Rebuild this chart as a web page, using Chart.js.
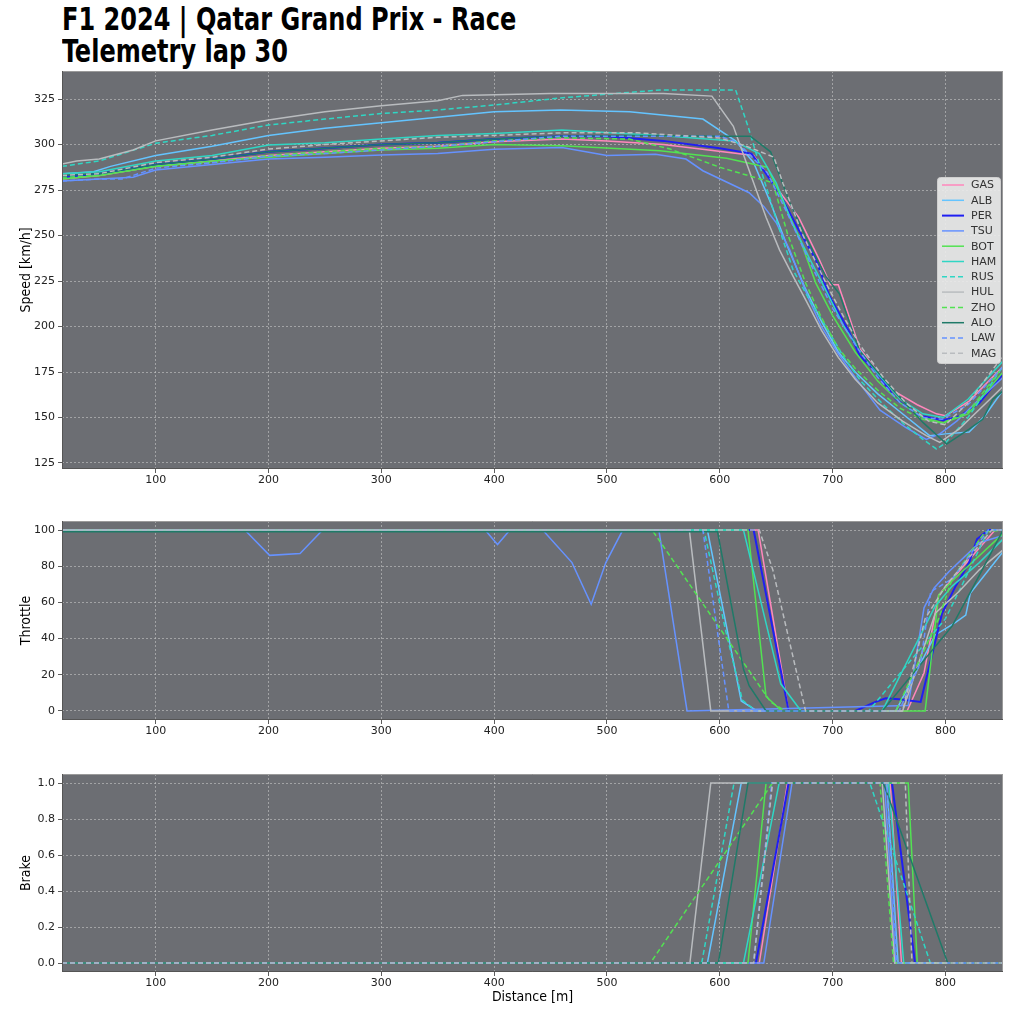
<!DOCTYPE html>
<html>
<head>
<meta charset="utf-8">
<script src="https://cdn.jsdelivr.net/npm/chart.js@4.4.1/dist/chart.umd.min.js"></script>
<style>
  html, body { margin: 0; padding: 0; background: #ffffff; }
  #wrap { position: relative; width: 1024px; height: 1024px; overflow: hidden; }
  .title { position: absolute; left: 62px; font-family: "DejaVu Sans Condensed", "DejaVu Sans", sans-serif;
           font-weight: bold; font-size: 32px; color: #000; white-space: nowrap; line-height: 32px;
           transform: scaleX(0.835); transform-origin: 0 0; }
  canvas { position: absolute; left: 0; }
</style>
</head>
<body>
<div id="wrap">
  <div class="title" style="top:3px">F1 2024 | Qatar Grand Prix - Race</div>
  <div class="title" style="top:35px">Telemetry lap 30</div>
  <canvas id="speed" width="1024" height="440" style="top:60px"></canvas>
  <canvas id="throttle" width="1024" height="240" style="top:510px"></canvas>
  <canvas id="brake" width="1024" height="261" style="top:763px"></canvas>
</div>
<script>
/* ----------------------------------------------------------
   DATA — lap 30, distance [m] vs value, one list per driver
---------------------------------------------------------- */
const drivers = ["GAS", "ALB", "PER", "TSU", "BOT", "HAM", "RUS", "HUL", "ZHO", "ALO", "LAW", "MAG"];
const colors  = ["#ff87bc", "#64c4ff", "#1f1ff2", "#6692ff", "#52e252", "#2fd6c4",
                 "#2fd6c4", "#b9bcbf", "#52e252", "#1f7a68", "#6692ff", "#b9bcbf"];
const dashed  = [false, false, false, false, false, false, true, false, true, false, true, true];

const xTicks        = [100, 200, 300, 400, 500, 600, 700, 800];
const speedTicks    = [125, 150, 175, 200, 225, 250, 275, 300, 325];
const throttleTicks = [0, 20, 40, 60, 80, 100];
const brakeTicks    = [0, 0.2, 0.4, 0.6, 0.8, 1.0];

// Speed [km/h]
const speedPts = [
  // GAS
  [[17,281],[50,283],[100,288],[150,291],[200,294],[250,296],[300,298],[350,299],[400,301.5],[460,303],[500,302],[550,300],[590,297],[630,294],[647,279],[670,260],[688,237],[698,223],[705,223],[710,214],[724,188],[740,175],[753,165],[775,157],[792,152],[800,151],[821,159],[851,178]],
  // ALB
  [[17,284],[45,285],[60,288],[100,294],[150,299],[200,305],[250,309],[300,312],[350,315],[400,318],[459,319],[520,318],[585,314],[614,302],[630,290],[645,268],[660,244],[675,222],[690,203],[705,186],[720,175],[740,163],[760,153],[786,140],[800,141],[821,142],[835,151],[851,165]],
  // PER
  [[17,282],[50,284],[100,289],[150,292],[200,296],[250,298],[300,300],[350,301],[400,303],[460,304.5],[500,304.5],[550,302],[600,298],[628,295],[641,284],[653,273],[670,253],[685,237],[697,217],[714,198],[724,184],[739,175],[756,160],[777,151],[798,148.5],[812,150.5],[830,158],[851,174]],
  // TSU
  [[17,280],[50,281],[80,282],[100,286],[150,289],[200,292],[250,293],[300,294.3],[350,295],[400,297.4],[460,298.4],[500,294],[543,294.7],[570,292],[585,285.6],[626,273.5],[639,266],[650,257],[662,242],[670,229],[679,215],[690,200],[705,185],[720,172],[742,154],[765,144.5],[783,138],[795,141],[810,148],[830,160],[851,172]],
  // BOT
  [[17,281],[50,283],[100,288],[150,291],[200,293],[250,295],[300,297],[350,298],[400,300],[460,299.3],[547,296.6],[606,292.4],[642,287.5],[651,275.6],[671,248],[685,224],[700,206],[720,186],[740,170],[760,158],[780,150],[798,147],[820,152],[851,175]],
  // HAM
  [[17,284],[50,285],[100,291],[150,294],[200,299.7],[250,301],[300,303],[350,305],[400,306],[460,308],[547,305],[612,302],[635,295],[650,279],[664,257],[679,238],[694,220],[710,200],[724,187],[740,174],[760,160],[780,152],[798,150],[820,160],[851,181]],
  // RUS
  [[17,288],[50,291],[100,300.7],[150,305],[200,310.7],[250,314],[300,317],[350,319],[400,321.7],[459,325.6],[547,330],[614,330],[625,310],[638,283],[652,255],[665,231],[680,214],[695,199],[710,183],[725,170],[745,157],[764,146],[780,138],[792,132.7],[800,136],[820,150],[851,178]],
  // HUL
  [[17,289.3],[30,291],[50,292],[80,297],[100,302],[150,308],[200,313.5],[250,318],[300,321.3],[350,324],[372,327],[450,328],[550,328],[593,326.6],[612,310],[623,291],[641,260],[653,242],[665,227.5],[676,214.8],[690,198],[705,183],[720,171],[740,158],[762,148],[783,140],[795,136.3],[812,143.6],[836,158],[851,167]],
  // ZHO
  [[17,282],[50,283],[100,288],[150,290],[200,294],[250,296],[300,298],[350,299],[400,302],[459,303.7],[520,303],[556,297.5],[600,287.5],[647,279],[660,251],[676,224],[690,205],[705,188],[720,177],[740,165],[760,155],[780,149],[797,147],[820,153],[851,178]],
  // ALO
  [[17,283],[50,284],[100,289],[150,292],[200,296],[250,298],[300,300],[350,301],[400,303],[459,304.6],[530,305],[600,304.6],[627,304.6],[645,296],[650,288],[662,268],[676,249.5],[694,227.5],[706,218],[724,186.5],[753,165.5],[780,147.3],[801,135.4],[821,143.6],[833,149],[842,160],[851,164.6]],
  // LAW
  [[17,280],[50,281],[70,281],[100,287],[150,290],[200,293.5],[250,295],[300,297],[350,299],[400,301.5],[459,304.6],[600,304.6],[616,301],[642,284.6],[660,262],[680,235],[700,210],[720,190],[740,172],[760,158],[780,150],[797,149],[820,157],[851,178]],
  // MAG
  [[17,283],[50,284],[100,290],[150,293],[200,297.5],[250,300],[300,302],[350,304],[400,305],[459,306.4],[527,306.4],[600,303.6],[624,299],[648,293],[656,278.6],[673,251],[694,224],[710,205],[724,190],[745,172],[765,158],[785,148],[800,146],[820,158],[851,184]]
];

// Throttle [%]
const throttlePts = [
  [[17,100],[634,100],[661,0],[766,0],[781,21],[794,64],[806,73],[844,100],[851,100]],
  [[17,100],[589,100],[619,5.5],[633,0],[756,0],[791,42],[809,49],[818,53],[822,65],[851,88]],
  [[17,100],[630,100],[661,0],[720,0],[738,5],[747,7],[759,6.5],[778,5],[797,54],[809,69],[821,82],[828,95],[838,100],[851,100]],
  [[17,100],[179,100],[201,86],[228,87],[248,100],[392,100],[403,92],[414,100],[443,100],[469,82],[486,59],[499,82],[514,100],[546,100],[571,0],[767,3],[781,57],[790,68],[803,77],[830,93],[851,97]],
  [[17,100],[625,100],[641,8],[655,0],[782,0],[794,64],[806,72],[820,80],[851,98]],
  [[17,100],[621,100],[654,15],[672,0],[744,0],[791,58],[806,69],[830,82],[851,95]],
  [[17,100],[586,100],[605,45],[620,6],[632,0],[732,0],[800,51],[815,70],[838,100],[851,100]],
  [[17,100],[573,100],[592,0],[762,0],[791,54],[812,66],[830,78],[851,89]],
  [[17,100],[540,100],[645,5],[658,0],[756,0],[794,51],[806,73],[835,99],[851,100]],
  [[17,99],[598,99],[621,23],[626,14],[641,0],[744,0],[806,47],[830,75],[851,100]],
  [[17,100],[585,100],[608,0],[759,0],[778,27],[787,66],[806,73],[838,100],[851,100]],
  [[17,100],[635,100],[647,78],[676,0],[762,0],[782,51],[800,69],[841,100],[851,100]]
];

// Brake (0 / 1)
const brakePts = [
  [[17,0],[635,0],[660,1],[751,1],[761,0],[851,0]],
  [[17,0],[589,0],[619,1],[748,1],[758,0],[851,0]],
  [[17,0],[632,0],[661,1],[752.6,1],[773,0],[851,0]],
  [[17,0],[639,0],[664,1],[746,1],[756,0],[851,0]],
  [[17,0],[625,0],[641,1],[767,1],[775,0],[851,0]],
  [[17,0],[621,0],[652.6,1],[749.6,1],[763,0],[851,0]],
  [[17,0],[584,0],[612.6,1],[733,1],[786.6,0],[851,0]],
  [[17,0],[573.5,0],[592,1],[744,1],[755,0],[851,0]],
  [[17,0],[538.5,0],[646.7,1],[742,1],[754,0],[851,0]],
  [[17,0],[598.7,0],[625,1],[745,1],[802,0],[851,0]],
  [[17,0],[630,0],[646,1],[748,1],[757,0],[851,0]],
  [[17,0],[630,0],[646.7,1],[764.4,1],[770.3,0],[851,0]]
];

/* ----------------------------------------------------------
   STYLE
---------------------------------------------------------- */
const PLOT_BG   = "#6c6e73";
const GRID_COL  = "rgba(200,200,200,0.75)";
const TICK_FONT = { family: "DejaVu Sans", size: 11 };
const LABEL_FONT = { family: "'DejaVu Sans Condensed', 'DejaVu Sans', sans-serif", size: 14 };

const plotBg = {
  id: "plotBg",
  beforeDraw(chart) {
    const { ctx, chartArea: a } = chart;
    ctx.save();
    ctx.fillStyle = PLOT_BG;
    ctx.fillRect(a.left, a.top, a.right - a.left, a.bottom - a.top);
    ctx.restore();
  },
  afterDraw(chart) {
    const { ctx, chartArea: a } = chart;
    ctx.save();
    ctx.lineWidth = 1;
    ctx.strokeStyle = "#9a9a9a";
    ctx.beginPath();
    ctx.moveTo(a.left, a.top + 0.5); ctx.lineTo(a.right, a.top + 0.5);
    ctx.moveTo(a.right - 0.5, a.top); ctx.lineTo(a.right - 0.5, a.bottom);
    ctx.stroke();
    ctx.strokeStyle = "#555";
    ctx.beginPath();
    ctx.moveTo(a.left + 0.5, a.top); ctx.lineTo(a.left + 0.5, a.bottom);
    ctx.moveTo(a.left, a.bottom - 0.5); ctx.lineTo(a.right, a.bottom - 0.5);
    ctx.stroke();
    ctx.restore();
  }
};

// legend box drawn inside the speed panel
const insideLegend = {
  id: "insideLegend",
  afterDraw(chart) {
    const ctx = chart.ctx;
    const bx = 937, by = 117, bw = 63, bh = 186;
    ctx.save();
    ctx.fillStyle = "rgba(236,236,236,0.9)";
    ctx.strokeStyle = "#cfcfcf";
    ctx.lineWidth = 1;
    ctx.beginPath();
    ctx.roundRect(bx + 0.5, by + 0.5, bw, bh, 3);
    ctx.fill();
    ctx.stroke();
    ctx.font = "11px 'DejaVu Sans'";
    ctx.textBaseline = "middle";
    chart.data.datasets.forEach((ds, i) => {
      const y = by + 8 + i * 15.3;
      ctx.strokeStyle = ds.borderColor;
      ctx.lineWidth = ds.borderWidth;
      ctx.setLineDash(ds.borderDash || []);
      ctx.beginPath();
      ctx.moveTo(942, y); ctx.lineTo(964, y);
      ctx.stroke();
      ctx.setLineDash([]);
      ctx.fillStyle = "#333";
      ctx.fillText(ds.label, 971, y + 0.5);
    });
    ctx.restore();
  }
};

function makeDatasets(pts) {
  return drivers.map((d, i) => ({
    label: d,
    data: pts[i].map(p => ({ x: p[0], y: p[1] })),
    borderColor: colors[i],
    borderWidth: d === "PER" ? 2 : 1.5,
    borderDash: dashed[i] ? [5, 3] : [],
    pointRadius: 0,
    tension: 0,
    fill: false,
    order: drivers.length - i
  }));
}

function makeChart(id, pts, yMin, yMax, yTicks, yTitle, xTitle, xHeight, fmt, extra) {
  const canvas = document.getElementById(id);
  return new Chart(canvas, {
    type: "line",
    data: { datasets: makeDatasets(pts) },
    options: {
      responsive: false,
      animation: false,
      devicePixelRatio: 1,
      layout: { padding: { top: 11, right: 21, left: 0, bottom: 0 } },
      plugins: { legend: { display: false }, tooltip: { enabled: false } },
      scales: {
        x: {
          type: "linear", min: 17, max: 851,
          afterBuildTicks: s => { s.ticks = xTicks.map(v => ({ value: v })); },
          afterFit: s => { s.height = xHeight; },
          ticks: { autoSkip: false, maxRotation: 0, padding: 1, color: "#222", font: TICK_FONT,
                   callback: v => String(v) },
          grid: { color: GRID_COL, lineWidth: 0.8, tickLength: 4, tickColor: "#333" },
          border: { display: false, dash: [2, 2] },
          title: { display: !!xTitle, text: xTitle || "", color: "#000", font: LABEL_FONT,
                   padding: { top: 0, bottom: 18 } }
        },
        y: {
          type: "linear", min: yMin, max: yMax,
          afterBuildTicks: s => { s.ticks = yTicks.map(v => ({ value: v })); },
          afterFit: s => { s.width = 62; },
          ticks: { autoSkip: false, padding: 3, color: "#222", font: TICK_FONT, callback: fmt },
          grid: { color: GRID_COL, lineWidth: 0.8, tickLength: 4, tickColor: "#333" },
          border: { display: false, dash: [2, 2] },
          title: { display: true, text: yTitle, color: "#000", font: LABEL_FONT,
                   padding: { top: 18, bottom: 0 } }
        }
      }
    },
    plugins: [plotBg].concat(extra || [])
  });
}

makeChart("speed", speedPts, 121.7, 340.4, speedTicks, "Speed [km/h]", null, 31, v => String(v), [insideLegend]);
makeChart("throttle", throttlePts, -5, 105, throttleTicks, "Throttle", null, 30, v => String(v));
makeChart("brake", brakePts, -0.05, 1.05, brakeTicks, "Brake", "Distance [m]", 52, v => v.toFixed(1));
</script>
</body>
</html>
